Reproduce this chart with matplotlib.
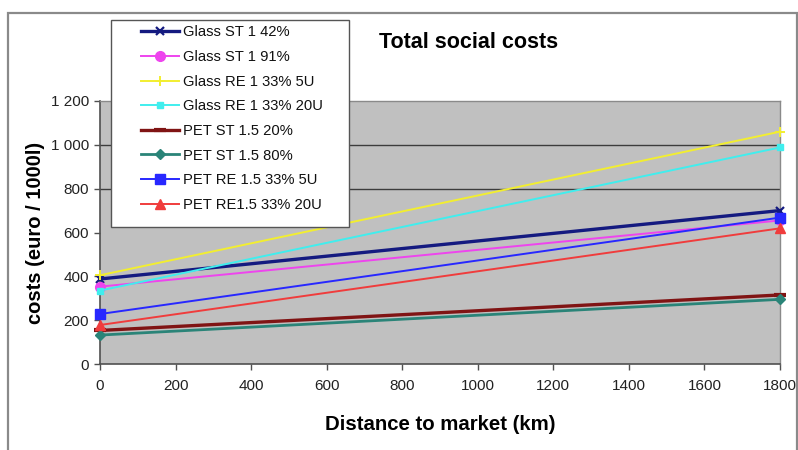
import matplotlib
matplotlib.use("Agg")
import matplotlib.pyplot as plt
from matplotlib.patches import Rectangle
from matplotlib.ticker import FuncFormatter, MultipleLocator

plt.rcParams['font.family'] = ['Liberation Sans', 'DejaVu Sans']

# Distance to market (km) at which each scenario is evaluated
distance = [0, 1800]

series_names = [
    "Glass ST 1 42%",
    "Glass ST 1 91%",
    "Glass RE 1 33% 5U",
    "Glass RE 1 33% 20U",
    "PET ST 1.5 20%",
    "PET ST 1.5 80%",
    "PET RE 1.5 33% 5U",
    "PET RE1.5 33% 20U",
]

# Total social costs (euro / 1000 l) at 0 km and 1800 km
glass_st_42 = [388, 700]
glass_st_91 = [353, 655]
glass_re_5u = [405, 1060]
glass_re_20u = [335, 988]
pet_st_20 = [153, 315]
pet_st_80 = [132, 295]
pet_re_5u = [228, 668]
pet_re_20u = [178, 619]

series_values = [glass_st_42, glass_st_91, glass_re_5u, glass_re_20u,
                 pet_st_20, pet_st_80, pet_re_5u, pet_re_20u]

gridline_levels = [800, 1000]

styles = [
    dict(color="#141a80", marker="x", lw=2.4, ms=6, mew=1.6),
    dict(color="#ee44ee", marker="o", lw=1.4, ms=7, mew=1),
    dict(color="#f2ee30", marker="+", lw=1.4, ms=7, mew=1.4),
    dict(color="#40eeee", marker="s", lw=1.4, ms=4, mew=1),
    dict(color="#801414", marker="_", lw=2.4, ms=9, mew=3),
    dict(color="#2a8478", marker="D", lw=2.0, ms=5, mew=1),
    dict(color="#2828ff", marker="s", lw=1.4, ms=7, mew=1),
    dict(color="#f03c3c", marker="^", lw=1.4, ms=7, mew=1),
]

W, H = 798, 450
fig = plt.figure(figsize=(W / 100, H / 100), dpi=100)
fig.patch.set_facecolor("white")

# outer chart frame
fig.patches.append(Rectangle((8 / W, -0.05), (797 - 8) / W, 0.05 + 1 - 13 / H,
                             transform=fig.transFigure, fill=False,
                             edgecolor="#8a8a8a", lw=1.6, zorder=0))

left, right, top, bottom = 100, 780, 101, 364
ax = fig.add_axes([left / W, 1 - bottom / H, (right - left) / W, (bottom - top) / H])
ax.set_facecolor("#c0c0c0")

for lvl in gridline_levels:
    ax.axhline(lvl, color="#3c3c3c", lw=1.0, zorder=1)

for name, vals, st in zip(series_names, series_values, styles):
    ax.plot(distance, vals, color=st["color"], lw=st["lw"], marker=st["marker"],
            ms=st["ms"], mew=st["mew"], mec=st["color"], mfc=st["color"],
            label=name, clip_on=False, zorder=3)

ax.set_xlim(0, 1800)
ax.set_ylim(0, 1200)
ax.xaxis.set_major_locator(MultipleLocator(200))
ax.yaxis.set_major_locator(MultipleLocator(200))
ax.yaxis.set_major_formatter(FuncFormatter(lambda v, p: f"{int(v):,}".replace(",", " ")))

for s in ["left", "bottom"]:
    ax.spines[s].set_color("#505050")
    ax.spines[s].set_linewidth(1.2)
for s in ["top", "right"]:
    ax.spines[s].set_color("#8a8a8a")
    ax.spines[s].set_linewidth(1.0)

ax.tick_params(axis="both", direction="out", length=4, width=1, color="#505050",
               labelsize=11, labelcolor="#222222")
ax.tick_params(axis="x", pad=7)
ax.tick_params(axis="y", pad=4)

ax.set_xlabel("Distance to market (km)", fontsize=14.7, fontweight="bold", labelpad=15.5)
ax.set_ylabel("costs (euro / 1000l)", fontsize=14.5, fontweight="bold", labelpad=4)

fig.text(469 / W, 1 - 43 / H, "Total social costs", fontsize=15.5, fontweight="bold",
         ha="center", va="center")

# legend box
fig.patches.append(Rectangle((111 / W, 1 - 227 / H), (349 - 111) / W, (227 - 20) / H,
                             transform=fig.transFigure, facecolor="white",
                             edgecolor="#555555", lw=1.0, zorder=3))

handles, labels = ax.get_legend_handles_labels()
leg = fig.legend(handles, labels, loc="upper left",
                 bbox_to_anchor=(141 / W, 1 - 25.5 / H), bbox_transform=fig.transFigure,
                 frameon=False, borderpad=0, borderaxespad=0, fontsize=10.6,
                 handlelength=2.6, handletextpad=0.25, labelspacing=0.72,
                 numpoints=1)
leg.set_zorder(4)
for t in leg.get_texts():
    t.set_color("#111111")

fig.savefig("out.png", dpi=100)
